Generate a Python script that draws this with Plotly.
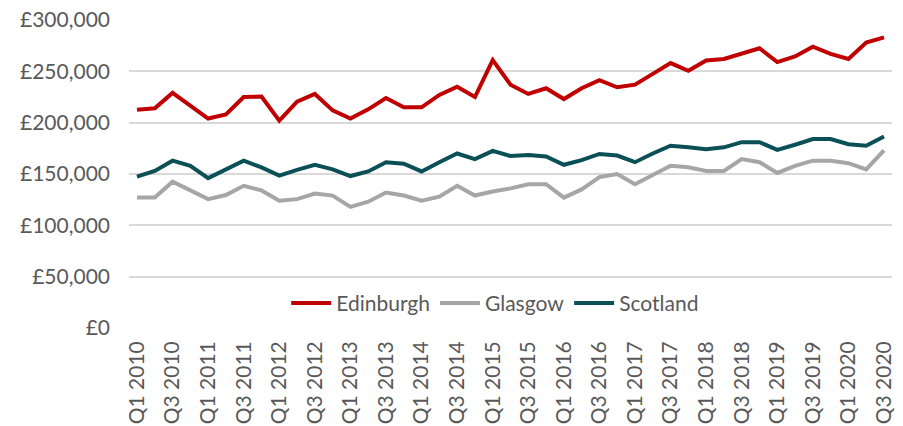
import plotly.graph_objects as go

quarters = [f"Q{q} {y}" for y in range(2010, 2021) for q in range(1, 5)][:43]

edinburgh = [212500, 214000, 229000, 216000, 204000, 208000, 225000, 225500, 202000, 220500,
             228000, 212000, 204000, 213000, 224000, 215000, 215000, 227000, 235000, 225000,
             261000, 237000, 228000, 233500, 223000, 233500, 241500, 234500, 237000, 247500,
             258000, 250500, 260500, 262000, 267000, 272500, 259000, 264500, 274000, 267000,
             262000, 278000, 283000]

glasgow = [127000, 127000, 142500, 134500, 125500, 129500, 138500, 134000, 124000, 125500,
           131000, 129000, 118000, 123000, 132000, 129000, 124000, 128000, 138500, 129000,
           133000, 136000, 140000, 140000, 127000, 135000, 147000, 150000, 140000, 149000,
           158000, 156500, 153000, 153000, 164500, 161500, 151000, 158000, 163000, 163000,
           160500, 154500, 173000]

scotland = [147500, 153000, 163000, 158000, 146000, 154000, 163000, 156500, 148500, 154000,
            159000, 154500, 148000, 152500, 161500, 160000, 152500, 161500, 170000, 164500,
            172500, 167500, 168500, 167000, 159000, 163500, 169500, 168000, 161500, 170000,
            177500, 176000, 174000, 176000, 181000, 181000, 173500, 178500, 184000, 184000,
            179000, 177500, 186500]

y_ticks = [0, 50000, 100000, 150000, 200000, 250000, 300000]
y_labels = ["£0", "£50,000", "£100,000", "£150,000", "£200,000", "£250,000", "£300,000"]

series = [("Edinburgh", edinburgh, "#C00000"),
          ("Glasgow", glasgow, "#A6A6A6"),
          ("Scotland", scotland, "#0B4F57")]

fig = go.Figure()
for name, vals, col in series:
    fig.add_trace(go.Scatter(x=quarters, y=vals, name=name, mode="lines",
                             line=dict(color=col, width=4)))

fig.update_layout(
    width=903, height=426,
    margin=dict(l=129, r=11, t=20, b=98),
    paper_bgcolor="white", plot_bgcolor="white",
    font=dict(family="Lato", size=21, color="#595959"),
    showlegend=True,
    legend=dict(orientation="h", x=0.48, xanchor="center", y=0.08, yanchor="middle",
                bgcolor="rgba(0,0,0,0)", font=dict(size=21, color="#595959"),
                itemwidth=40, tracegroupgap=0),
)
fig.update_xaxes(type="category", tickmode="array", tickvals=quarters[::2],
                 ticktext=quarters[::2], tickangle=-90, range=[-0.45, 42.45],
                 showgrid=False, showline=False, ticks="", zeroline=False,
                 ticklabelstandoff=8, automargin=False)
fig.update_yaxes(range=[0, 300000], tickvals=y_ticks, ticktext=y_labels,
                 showgrid=True, gridcolor="#D9D9D9", gridwidth=1.5,
                 zeroline=False, showline=False, ticks="", ticklabelstandoff=18,
                 automargin=False)

fig.write_html("out.html")
